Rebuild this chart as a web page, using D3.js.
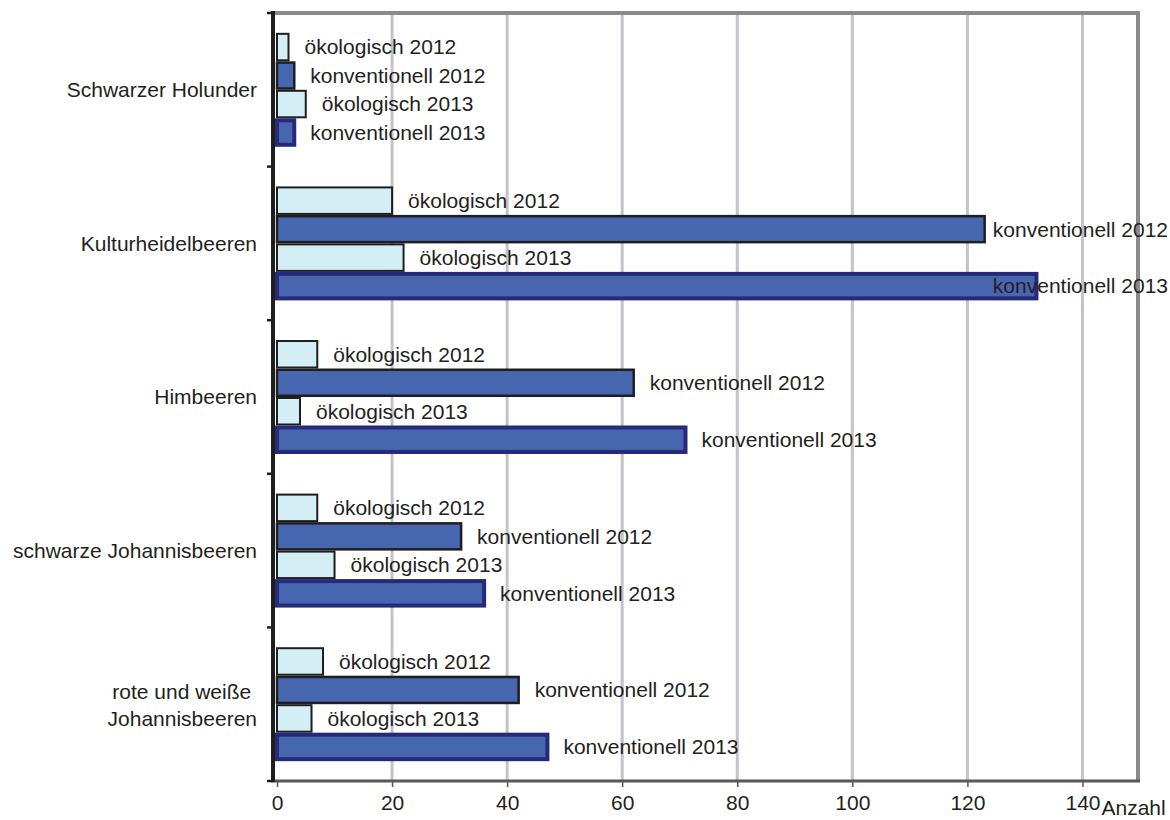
<!DOCTYPE html>
<html>
<head>
<meta charset="utf-8">
<script src="https://cdn.jsdelivr.net/npm/d3@7"></script>
<style>
  body { margin: 0; background: #fff; }
  svg { display: block; }
  text { font-family: "Liberation Sans", Arial, sans-serif; fill: #231f20; }
</style>
</head>
<body>
<svg id="chart"></svg>
<script>
// categories, top to bottom
const categories = ['Schwarzer Holunder', 'Kulturheidelbeeren', 'Himbeeren', 'schwarze Johannisbeeren', 'rote und weiße |Johannisbeeren'];
const series = ['ökologisch 2012', 'konventionell 2012', 'ökologisch 2013', 'konventionell 2013'];
// values per category, same order as series
const oeko2012 = [2, 20, 7, 7, 8];
const konv2012 = [3, 123, 62, 32, 42];
const oeko2013 = [5, 22, 4, 10, 6];
const konv2013 = [3, 132, 71, 36, 47];
const xTicks = [0, 20, 40, 60, 80, 100, 120, 140];

function drawChart() {
  const W = 1170, H = 820;
  const svg = d3.select('#chart').attr('width', W).attr('height', H);

  const left = 277, right = 1140, top = 13, bottom = 781;
  const fs = 21;

  const x = d3.scaleLinear().domain([0, 150]).range([left, right]);
  const y = d3.scaleBand().domain(categories).range([top, bottom])
    .paddingInner(0.258).paddingOuter(0.129);
  const ySub = d3.scaleBand().domain(series).range([0, y.bandwidth()]);

  const values = [oeko2012, konv2012, oeko2013, konv2013];
  const rows = [];
  categories.forEach((c, i) => {
    series.forEach((s, j) => rows.push({ cat: c, ser: s, j: j, value: values[j][i] }));
  });

  const style = [
    { fill: '#d4eef5', stroke: '#1e1e1e', sw: 2 },
    { fill: '#4766b0', stroke: '#1e1e1e', sw: 2.5 },
    { fill: '#d4eef5', stroke: '#1e1e1e', sw: 2 },
    { fill: '#4766b0', stroke: '#262a78', sw: 4 }
  ];

  // gridlines
  svg.append('g').selectAll('line')
    .data(xTicks.filter(t => t > 0)).enter()
    .append('line')
    .attr('x1', d => x(d)).attr('x2', d => x(d))
    .attr('y1', top).attr('y2', bottom)
    .attr('stroke', '#c3c3c8').attr('stroke-width', 3);

  // frame top and right
  svg.append('line').attr('x1', left - 4).attr('x2', right).attr('y1', top).attr('y2', top)
    .attr('stroke', '#8a8a8c').attr('stroke-width', 4);
  svg.append('line').attr('x1', right - 2).attr('x2', right - 2).attr('y1', top).attr('y2', bottom)
    .attr('stroke', '#8a8a8c').attr('stroke-width', 4);

  // bars
  svg.append('g').selectAll('rect')
    .data(rows).enter()
    .append('rect')
    .attr('x', x(0))
    .attr('y', d => y(d.cat) + ySub(d.ser) + style[d.j].sw / 2)
    .attr('width', d => x(d.value) - x(0))
    .attr('height', d => ySub.bandwidth() - style[d.j].sw)
    .attr('fill', d => style[d.j].fill)
    .attr('stroke', d => style[d.j].stroke)
    .attr('stroke-width', d => style[d.j].sw);

  // bar labels
  svg.append('g').selectAll('text')
    .data(rows).enter()
    .append('text')
    .attr('y', d => y(d.cat) + ySub(d.ser) + ySub.bandwidth() / 2)
    .attr('dy', '0.35em')
    .attr('font-size', fs)
    .text(d => d.ser)
    .attr('x', function (d) {
      const w = this.getComputedTextLength();
      return Math.min(x(d.value) + 16, 1168 - w);
    });

  // bottom axis
  const xAxis = d3.axisBottom(x).tickValues(xTicks).tickSize(6).tickPadding(8).tickSizeOuter(0);
  const gx = svg.append('g').attr('transform', `translate(0,${bottom})`).call(xAxis);
  gx.select('.domain').attr('stroke', '#58585a').attr('stroke-width', 3)
    .attr('d', `M${left - 6},0H${right}`);
  gx.selectAll('.tick line').attr('stroke', '#58585a').attr('stroke-width', 1.5);
  gx.selectAll('.tick text').attr('font-size', fs).attr('fill', '#231f20')
    .attr('font-family', '"Liberation Sans", Arial, sans-serif');

  svg.append('text').attr('x', x(140) + 19).attr('y', 815).attr('font-size', fs).text('Anzahl');

  // left axis
  svg.append('line').attr('x1', left - 4).attr('x2', left - 4).attr('y1', top - 2).attr('y2', bottom + 1)
    .attr('stroke', '#1e1e1e').attr('stroke-width', 4);
  const bounds = categories.map(c => y(c) - y.step() * y.paddingInner() / 2).concat([bottom]);
  svg.append('g').selectAll('line')
    .data(bounds).enter()
    .append('line')
    .attr('x1', left - 10).attr('x2', left - 4)
    .attr('y1', d => d).attr('y2', d => d)
    .attr('stroke', '#1e1e1e').attr('stroke-width', 2.5);

  // category labels
  svg.append('g').selectAll('text')
    .data(categories).enter()
    .append('text')
    .attr('text-anchor', 'end')
    .attr('font-size', fs)
    .attr('x', 257)
    .attr('y', d => y(d) + y.bandwidth() / 2)
    .each(function (d) {
      const lines = d.split('|');
      const t = d3.select(this);
      lines.forEach((l, k) => {
        t.append('tspan').attr('x', 257)
          .attr('dy', k === 0 ? `${0.35 - (lines.length - 1) * 0.6}em` : '1.3em')
          .style('white-space', 'pre')
          .text(l);
      });
    });
}

drawChart();
</script>
</body>
</html>
